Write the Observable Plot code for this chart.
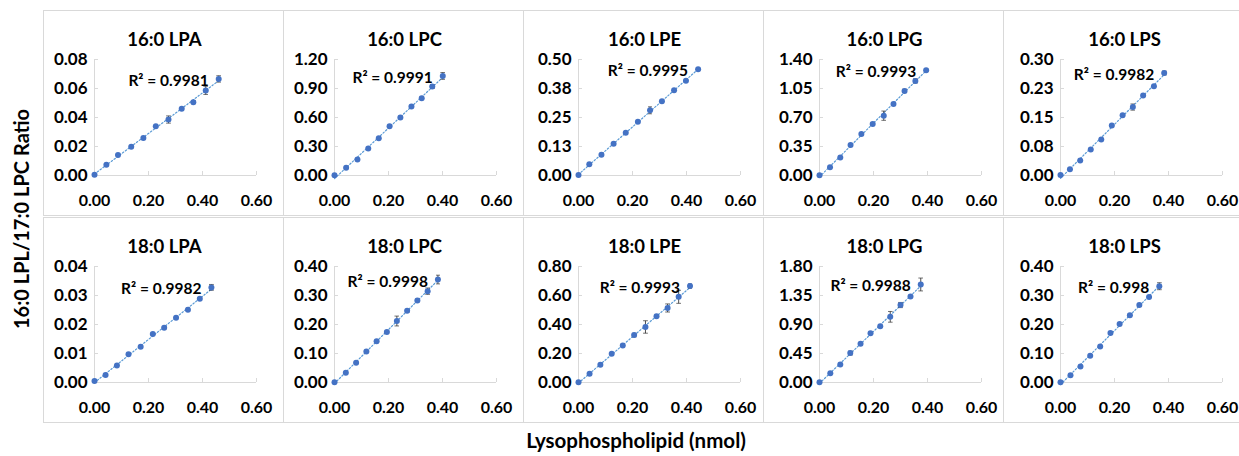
<!DOCTYPE html>
<html><head><meta charset="utf-8">
<script src="https://cdn.jsdelivr.net/npm/d3@7"></script>
<script src="https://cdn.jsdelivr.net/npm/@observablehq/plot@0.6"></script>
<style>
body{margin:0;background:#fff;font-family:Lato,"Open Sans",sans-serif;}
#wrap{position:relative;width:1239px;height:456px;overflow:hidden;background:#fff}
.panel{position:absolute;border:1px solid #d9d9d9;box-sizing:border-box;width:241px;height:206px;}
.panel svg{position:absolute;left:0;top:0}
#ylab{position:absolute;left:21px;top:219px;transform:translate(-50%,-50%) rotate(-90deg);font-weight:700;font-size:20px;white-space:nowrap;color:#000}
#xlab{position:absolute;left:636px;top:440px;transform:translate(-50%,-50%);font-weight:700;font-size:20.5px;white-space:nowrap;color:#000}
</style>
</head><body>
<div id="wrap">
  <div id="ylab">16:0 LPL/17:0 LPC Ratio</div>
  <div id="xlab">Lysophospholipid (nmol)</div>
</div>
<script>
// ---------- data ----------
const panelTitles = ["16:0 LPA","16:0 LPC","16:0 LPE","16:0 LPG","16:0 LPS",
                     "18:0 LPA","18:0 LPC","18:0 LPE","18:0 LPG","18:0 LPS"];
const r2Labels = ["0.9981","0.9991","0.9995","0.9993","0.9982",
                  "0.9982","0.9998","0.9993","0.9988","0.998"];
const yMax = [0.08,1.20,0.50,1.40,0.30, 0.04,0.40,0.80,1.80,0.40];
const yTicks = [
  [0,0.02,0.04,0.06,0.08],
  [0,0.3,0.6,0.9,1.2],
  [0,0.125,0.25,0.375,0.5],
  [0,0.35,0.7,1.05,1.4],
  [0,0.075,0.15,0.225,0.3],
  [0,0.01,0.02,0.03,0.04],
  [0,0.1,0.2,0.3,0.4],
  [0,0.2,0.4,0.6,0.8],
  [0,0.45,0.9,1.35,1.8],
  [0,0.1,0.2,0.3,0.4]
];
const yTickLabels = [
  ["0.00","0.02","0.04","0.06","0.08"],
  ["0.00","0.30","0.60","0.90","1.20"],
  ["0.00","0.13","0.25","0.38","0.50"],
  ["0.00","0.35","0.70","1.05","1.40"],
  ["0.00","0.08","0.15","0.23","0.30"],
  ["0.00","0.01","0.02","0.03","0.04"],
  ["0.00","0.10","0.20","0.30","0.40"],
  ["0.00","0.20","0.40","0.60","0.80"],
  ["0.00","0.45","0.90","1.35","1.80"],
  ["0.00","0.10","0.20","0.30","0.40"]
];
const xTicks = [0,0.2,0.4,0.6];
const xTickLabels = ["0.00","0.20","0.40","0.60"];

// amount of lysophospholipid (nmol)
const amounts = [
  [0,0.044,0.087,0.136,0.181,0.227,0.274,0.323,0.366,0.412,0.460],
  [0,0.043,0.085,0.125,0.164,0.204,0.244,0.285,0.323,0.362,0.401],
  [0,0.040,0.085,0.130,0.175,0.220,0.265,0.309,0.354,0.398,0.443],
  [0,0.039,0.077,0.115,0.155,0.197,0.238,0.274,0.315,0.355,0.395],
  [0,0.035,0.073,0.112,0.151,0.190,0.230,0.268,0.306,0.346,0.384],
  [0,0.041,0.083,0.126,0.171,0.216,0.258,0.302,0.346,0.390,0.433],
  [0,0.042,0.080,0.118,0.156,0.194,0.231,0.269,0.307,0.345,0.383],
  [0,0.041,0.081,0.123,0.164,0.206,0.248,0.289,0.330,0.371,0.413],
  [0,0.040,0.077,0.114,0.152,0.189,0.225,0.262,0.300,0.337,0.375],
  [0,0.037,0.074,0.110,0.147,0.185,0.219,0.257,0.292,0.328,0.366]
];
// LPL / 17:0 LPC ratio
const ratios = [
  [0.0005,0.0074,0.0141,0.0199,0.0259,0.0340,0.0386,0.0460,0.0506,0.0587,0.0666],
  [0.003,0.080,0.165,0.280,0.385,0.510,0.600,0.715,0.800,0.920,1.030],
  [0.002,0.048,0.089,0.137,0.184,0.232,0.281,0.320,0.367,0.408,0.458],
  [0.003,0.101,0.218,0.367,0.500,0.621,0.722,0.863,1.021,1.142,1.271],
  [0.001,0.016,0.039,0.067,0.093,0.129,0.156,0.177,0.207,0.231,0.265],
  [0.0005,0.0026,0.0059,0.0097,0.0123,0.0167,0.0189,0.0223,0.0251,0.0289,0.0328],
  [0.001,0.034,0.068,0.107,0.142,0.174,0.212,0.247,0.283,0.315,0.355],
  [0.002,0.061,0.122,0.198,0.255,0.327,0.383,0.457,0.514,0.591,0.665],
  [0.003,0.142,0.279,0.456,0.603,0.766,0.872,1.019,1.202,1.334,1.521],
  [0.001,0.025,0.055,0.092,0.124,0.171,0.202,0.232,0.267,0.295,0.332]
];
// standard deviations
const errors = [
  [0.0003,0.0003,0.0004,0.0004,0.0005,0.0004,0.0025,0.0004,0.0010,0.0028,0.0022],
  [0.005,0.005,0.006,0.006,0.008,0.008,0.012,0.008,0.010,0.020,0.035],
  [0.002,0.002,0.002,0.002,0.002,0.003,0.015,0.006,0.006,0.004,0.003],
  [0.005,0.006,0.008,0.010,0.010,0.015,0.056,0.015,0.020,0.025,0.012],
  [0.001,0.001,0.001,0.002,0.002,0.002,0.002,0.008,0.002,0.002,0.005],
  [0.0002,0.0002,0.0002,0.0002,0.0002,0.0003,0.0003,0.0003,0.0006,0.0003,0.0010],
  [0.001,0.002,0.002,0.002,0.003,0.003,0.017,0.004,0.004,0.011,0.015],
  [0.003,0.004,0.004,0.006,0.008,0.012,0.043,0.006,0.028,0.045,0.015],
  [0.005,0.008,0.010,0.030,0.010,0.010,0.015,0.083,0.040,0.015,0.100],
  [0.001,0.002,0.002,0.002,0.002,0.003,0.002,0.003,0.003,0.003,0.012]
];

// ---------- layout ----------
const colLeft = [43, 283, 523, 763, 1003];
const rowTop = [10, 217];
const colMarginLeft = [50, 50, 54, 55, 56];
const W = 239, H = 204, plotW = 162, mTop = 48, mBottom = 40;
const FONT = "Lato, 'Open Sans', sans-serif";
const dotColor = "#4472C4", trendColor = "#5B9BD5", axisColor = "#d9d9d9";

const wrap = document.getElementById("wrap");
panelTitles.forEach((title, i) => {
  const r = Math.floor(i / 5), c = i % 5;
  const data = amounts[i].map((x, j) => ({x, y: ratios[i][j], e: errors[i][j]}));
  const labelMap = new Map(yTicks[i].map((t, k) => [t, yTickLabels[i][k]]));
  const xLabelMap = new Map(xTicks.map((t, k) => [t, xTickLabels[k]]));
  const mL = colMarginLeft[c];
  const chart = Plot.plot({
    width: W, height: H,
    marginLeft: mL, marginRight: W - mL - plotW,
    marginTop: mTop, marginBottom: mBottom,
    style: {fontFamily: FONT, background: "transparent", color: "#000", overflow: "visible"},
    x: {domain: [0, 0.6]},
    y: {domain: [0, yMax[i]]},
    marks: [
      Plot.ruleY([0], {stroke: axisColor, strokeWidth: 1}),
      Plot.ruleX([0], {stroke: axisColor, strokeWidth: 1}),
      Plot.axisX(xTicks, {tickSize: -4, stroke: axisColor, fill: "none", label: null}),
      Plot.axisY(yTicks[i], {tickSize: -4, stroke: axisColor, fill: "none", label: null}),
      Plot.axisX(xTicks, {tickSize: 0, tickPadding: 19, label: null, fontSize: 16, fontWeight: "bold",
        tickFormat: d => xLabelMap.get(d)}),
      Plot.axisY(yTicks[i], {tickSize: 0, tickPadding: 7, label: null, fontSize: 17, fontWeight: "bold",
        tickFormat: d => labelMap.get(d)}),
      Plot.linearRegressionY(data, {x: "x", y: "y", ci: 0, stroke: trendColor, strokeWidth: 1.2,
        strokeDasharray: "1.5,2"}),
      Plot.link(data.filter(d => d.e > 0), {x1: "x", x2: "x", y1: d => d.y - d.e, y2: d => d.y + d.e,
        stroke: "#222", strokeWidth: 0.8, markerStart: "tick", markerEnd: "tick"}),
      Plot.dot(data, {x: "x", y: "y", r: 3, fill: dotColor, stroke: "none"}),
      Plot.text(data.slice(-1), {x: "x", y: "y", text: () => "R\u00B2 = " + r2Labels[i],
        textAnchor: "end", dx: -10, dy: 2, fontSize: 15.5, fontWeight: "bold", fill: "#000"}),
      Plot.text([title], {text: d => d, frameAnchor: "top-left", dx: 120 - mL, dy: -27,
        textAnchor: "middle", fontSize: 18.5, fontWeight: "bold", fill: "#000"})
    ]
  });
  const div = document.createElement("div");
  div.className = "panel";
  div.style.left = colLeft[c] + "px";
  div.style.top = rowTop[r] + "px";
  div.appendChild(chart);
  wrap.appendChild(div);
});
</script>
</body></html>
